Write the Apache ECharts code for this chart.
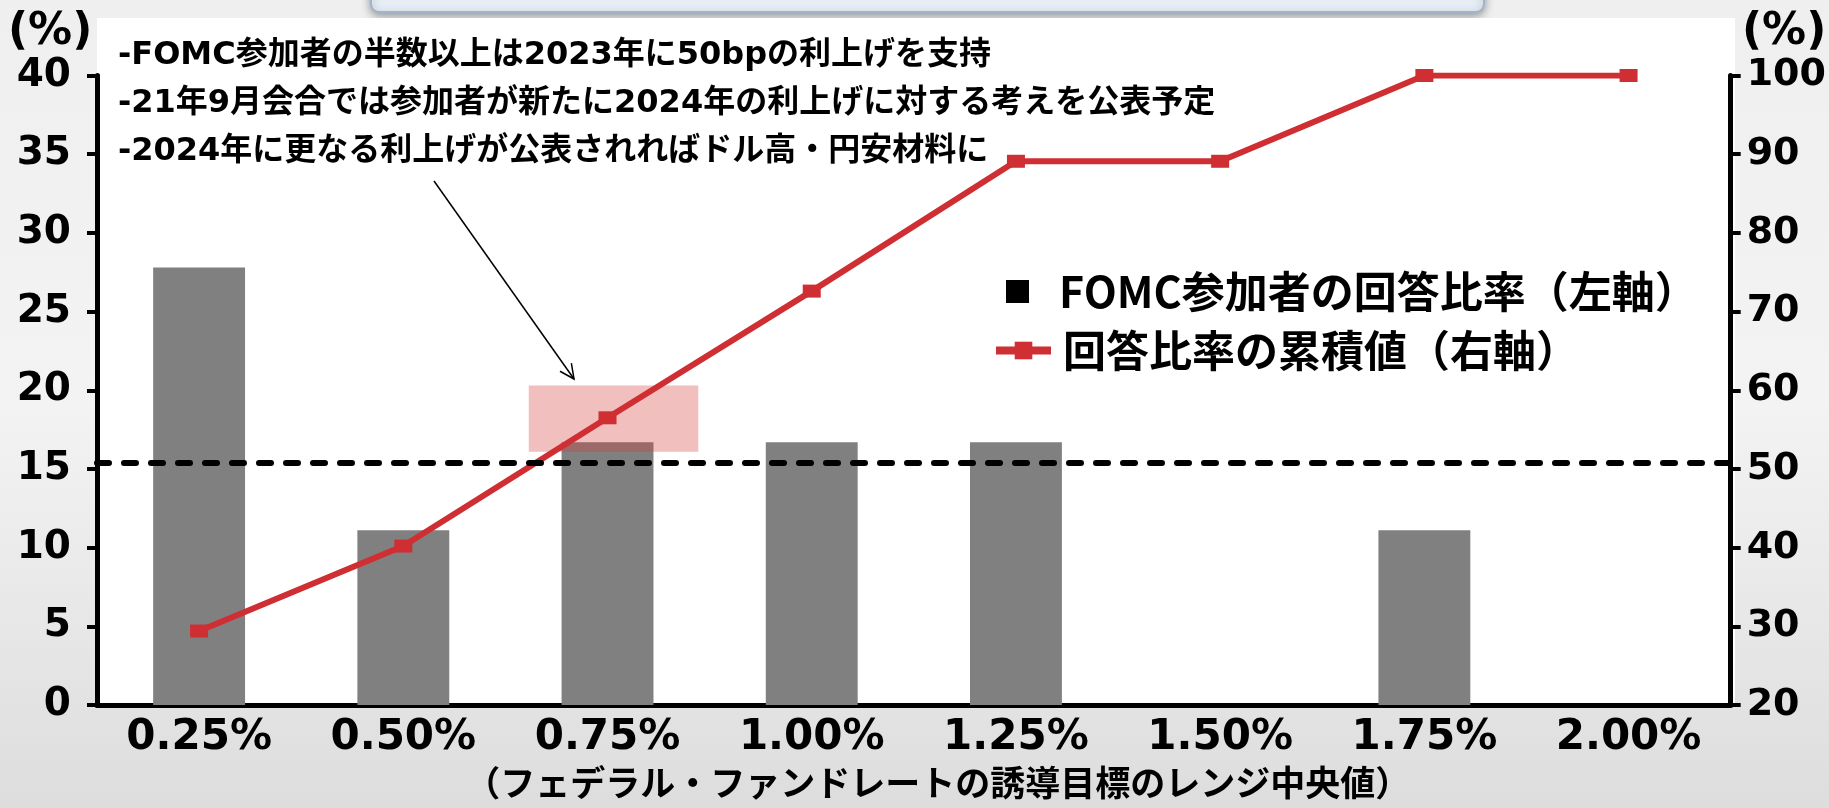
<!DOCTYPE html>
<html>
<head>
<meta charset="utf-8">
<script src="https://cdn.jsdelivr.net/npm/echarts/dist/echarts.min.js"></script>
<style>
html, body { margin: 0; padding: 0; }
#main { width: 1829px; height: 808px; }
</style>
</head>
<body>
<div id="main"></div>
<script>
// data
var categories = ['0.25%', '0.50%', '0.75%', '1.00%', '1.25%', '1.50%', '1.75%', '2.00%'];
var answerShare = [27.8, 11.1, 16.7, 16.7, 16.7, 0, 11.1, 0];
var cumulativeShare = [29.4, 40.2, 56.5, 72.6, 89.1, 89.1, 100, 100];
var majorityLevel = 50.8;               // right axis
var highlightBox = [[2, 16.1, 20.3]];   // category index, low, high (left axis)
var notes = [
    '-FOMC参加者の半数以上は2023年に50bpの利上げを支持',
    '-21年9月会合では参加者が新たに2024年の利上げに対する考えを公表予定',
    '-2024年に更なる利上げが公表されればドル高・円安材料に'
];
var unitLabel = '(%)';
var barName = 'FOMC参加者の回答比率（左軸）';
var lineName = '回答比率の累積値（右軸）';
var xName = '（フェデラル・ファンドレートの誘導目標のレンジ中央値）';

var NUM = '"DejaVu Sans", "Noto Sans CJK JP", sans-serif';
var JP = '"Noto Sans CJK JP", sans-serif';
var RED = '#cf2e33';

var chart = echarts.init(document.getElementById('main'), null, {renderer: 'canvas'});

//arrow
var a0 = [434, 181], a1 = [574, 379];
var dx = a1[0] - a0[0], dy = a1[1] - a0[1], len = Math.sqrt(dx * dx + dy * dy);
var ux = dx / len, uy = dy / len, head = 16, ang = 0.45;
function wing(s) {
    var c = Math.cos(s * ang), sn = Math.sin(s * ang);
    var rx = ux * c - uy * sn, ry = ux * sn + uy * c;
    return [a1[0] - rx * head, a1[1] - ry * head];
}

var graphics = [
    {type: 'rect', z: -100, silent: true, shape: {x: 0, y: 0, width: 1829, height: 808},
        style: {fill: new echarts.graphic.LinearGradient(0, 0, 0, 1, [
            {offset: 0, color: '#efefef'}, {offset: 0.5, color: '#f3f3f3'}, {offset: 1, color: '#dddddd'}])}},
    {type: 'rect', z: -99, silent: true, shape: {x: 371, y: -30, width: 1113, height: 42, r: 8},
        style: {fill: '#e6edf4', stroke: '#9db5cf', lineWidth: 2,
            shadowBlur: 8, shadowOffsetY: 3, shadowColor: 'rgba(0,0,0,0.35)'}},
    {type: 'rect', z: -98, silent: true, shape: {x: 97, y: 18, width: 1638, height: 687},
        style: {fill: '#ffffff'}},
    {type: 'polyline', z: 10, silent: true, shape: {points: [a0, a1]},
        style: {stroke: '#000', lineWidth: 1.5, fill: null}},
    {type: 'polyline', z: 10, silent: true, shape: {points: [wing(1), a1, wing(-1)]},
        style: {stroke: '#000', lineWidth: 1.5, fill: null}},
    // axis units
    {type: 'text', z: 10, silent: true,
        style: {text: unitLabel, x: 8, y: 33, verticalAlign: 'middle', font: 'bold 44px ' + NUM, fill: '#000'}},
    {type: 'text', z: 10, silent: true,
        style: {text: unitLabel, x: 1742, y: 33, verticalAlign: 'middle', font: 'bold 44px ' + NUM, fill: '#000'}}
];
notes.forEach(function (t, i) {
    graphics.push({
        type: 'text', z: 10, silent: true,
        style: {text: t, x: 118, y: 56 + i * 48, verticalAlign: 'middle',
            font: 'bold 32px ' + NUM, fill: '#000'}
    });
});

var option = {
    animation: false,
    graphic: graphics,
    grid: {left: 97, right: 98, top: 75.5, bottom: 103, containLabel: false},
    legend: [
        {
            left: 1001, top: 265, orient: 'vertical', selectedMode: false,
            icon: 'rect', itemWidth: 23, itemHeight: 23,
            data: [{name: barName, itemStyle: {color: '#000'}}],
            textStyle: {fontSize: 43, fontWeight: 'bold', fontFamily: JP, color: '#000', padding: [0, 0, 0, 25]}
        },
        {
            left: 987, top: 324, orient: 'vertical', selectedMode: false,
            itemWidth: 55, itemHeight: 22,
            data: [lineName],
            lineStyle: {width: 8},
            textStyle: {fontSize: 43, fontWeight: 'bold', fontFamily: JP, color: '#000', padding: [0, 0, 0, 7]}
        }
    ],
    xAxis: {
        type: 'category',
        data: categories,
        name: xName,
        nameLocation: 'middle',
        nameGap: 60,
        nameTextStyle: {fontSize: 35, fontWeight: 'bold', fontFamily: JP, color: '#000', padding: [0, 0, 0, 48]},
        axisLine: {lineStyle: {color: '#000', width: 5}},
        axisTick: {length: 12, lineStyle: {color: '#000', width: 4}},
        axisLabel: {margin: 12, fontSize: 42, fontWeight: 'bold', fontFamily: NUM, color: '#000'},
        splitLine: {show: false}
    },
    yAxis: [
        {
            type: 'value', min: 0, max: 40, interval: 5,
            axisLine: {show: true, lineStyle: {color: '#000', width: 5}},
            axisTick: {show: true, length: 10, lineStyle: {color: '#000', width: 4}},
            axisLabel: {margin: 26, fontSize: 39, fontWeight: 'bold', fontFamily: NUM, color: '#000'},
            splitLine: {show: false}
        },
        {
            type: 'value', min: 20, max: 100, interval: 10,
            axisLine: {show: true, lineStyle: {color: '#000', width: 5}},
            axisTick: {show: true, length: 10, lineStyle: {color: '#000', width: 4}},
            axisLabel: {margin: 16, fontSize: 38, fontWeight: 'bold', fontFamily: NUM, color: '#000'},
            splitLine: {show: false}
        }
    ],
    series: [
        {
            name: barName,
            type: 'bar',
            yAxisIndex: 0,
            barWidth: '45%',
            data: answerShare,
            itemStyle: {color: '#808080'},
            z: 2
        },
        {
            name: 'highlight',
            type: 'custom',
            yAxisIndex: 0,
            data: highlightBox,
            encode: {x: 0, y: [1, 2]},
            z: 3,
            silent: true,
            renderItem: function (params, api) {
                var top = api.coord([api.value(0), api.value(2)]);
                var bot = api.coord([api.value(0), api.value(1)]);
                var w = api.size([1, 0])[0] * 0.83;
                return {
                    type: 'rect',
                    shape: {x: top[0] - w / 2 + 6, y: top[1], width: w, height: bot[1] - top[1]},
                    style: {fill: 'rgba(214,55,55,0.32)'}
                };
            }
        },
        {
            name: lineName,
            type: 'line',
            yAxisIndex: 1,
            data: cumulativeShare,
            symbol: 'rect',
            symbolSize: [18, 13],
            itemStyle: {color: RED},
            lineStyle: {color: RED, width: 6},
            z: 4,
            markLine: {
                silent: true,
                symbol: 'none',
                label: {show: false},
                lineStyle: {color: '#000', width: 6, type: [12, 15], cap: 'round'},
                data: [{yAxis: majorityLevel}]
            }
        }
    ]
};
chart.setOption(option);
window.onresize = chart.resize;
</script>
</body>
</html>
